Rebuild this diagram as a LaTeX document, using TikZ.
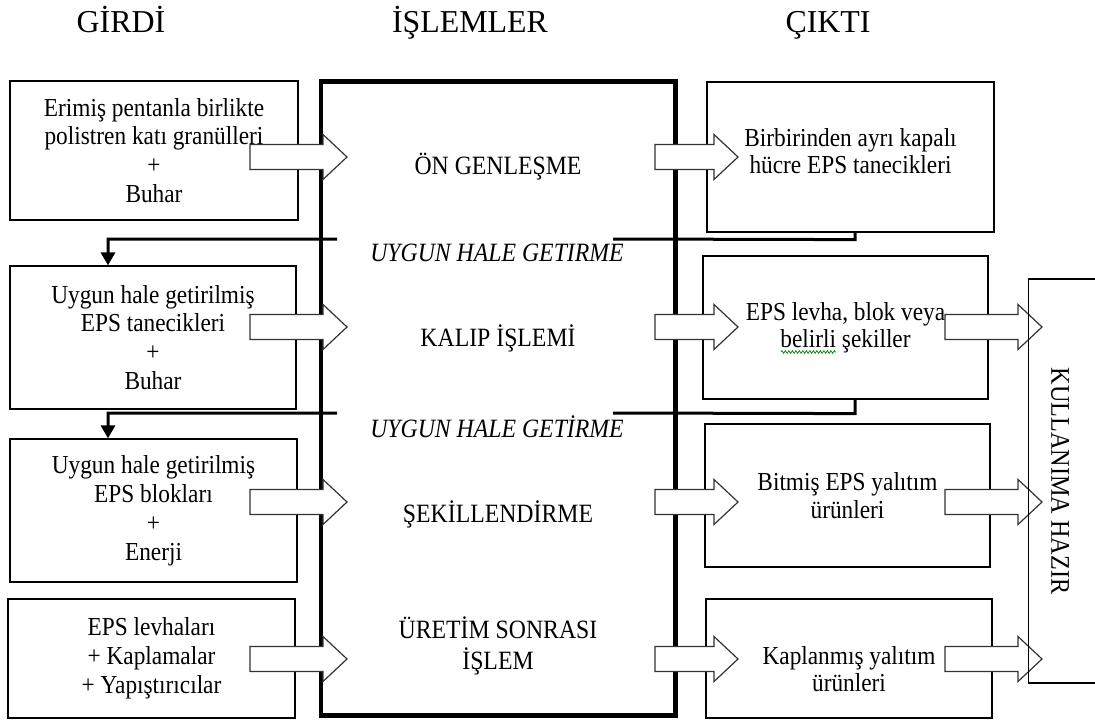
\documentclass[tikz,border=0pt]{standalone}
\usepackage{fontspec}
\setmainfont{Liberation Serif}
\newfontfamily\bodyfont{Liberation Serif}[FakeStretch=0.9]
\usetikzlibrary{arrows.meta,decorations.pathmorphing}

\begin{document}
\begin{tikzpicture}[x=1bp,y=-1bp,
  txt/.style={align=center, inner sep=0pt, font=\bodyfont\fontsize{26}{29}\selectfont},
  box/.style={txt, draw, line width=1.2bp},
  outtxt/.style={txt, font=\bodyfont\fontsize{26}{27.5}\selectfont},
  outbox/.style={outtxt, draw, line width=1.2bp},
  head/.style={font=\fontsize{32}{36}\selectfont, anchor=base},
  proc/.style={align=center, font=\bodyfont\fontsize{26.5}{31}\selectfont},
  cond/.style={font=\bodyfont\fontsize{26.5}{28}\selectfont\itshape},
  feed/.style={line width=3bp, -{Triangle[width=14bp,length=13bp]}},
  arrowline/.style={draw=black!80, fill=white, line width=1.2bp, line join=miter},
  pics/blockarrow/.style={code={
    \path[arrowline] (0,-12.5) -- ({#1-24},-12.5) -- ({#1-24},-22.5) -- (#1,0)
      -- ({#1-24},22.5) -- ({#1-24},12.5) -- (0,12.5) -- cycle;}}
]
\useasboundingbox (0,0) rectangle (1095,720);

% column headings
\node[head] (hin)   at (121,33) {GİRDİ};
\node[head] (hproc) at (470,33) {İŞLEMLER};
\node[head] (hout)  at (828,33) {ÇIKTI};

% process column
\node[draw, line width=4.5bp, minimum width=354.5bp, minimum height=634bp, inner sep=0pt]
  (main) at (498.25,398.5) {};
\node[proc] (p1) at (498,167) {ÖN GENLEŞME};
\node[proc] (p2) at (498,338) {KALIP İŞLEMİ};
\node[proc] (p3) at (498,514) {ŞEKİLLENDİRME};
\node[proc] (p4) at (498,646) {ÜRETİM SONRASI\\İŞLEM};

% inputs
\node[box, minimum width=288bp, minimum height=139bp] (lb1) at (154,150.5)
  {Erimiş pentanla birlikte\\polistren katı granülleri\\+\\Buhar};
\node[box, minimum width=286bp, minimum height=143bp] (lb2) at (153,337.5)
  {Uygun hale getirilmiş\\EPS tanecikleri\\+\\Buhar};
\node[box, minimum width=287bp, minimum height=143bp] (lb3) at (153.5,510.5)
  {Uygun hale getirilmiş\\EPS blokları\\+\\Enerji};
\node[box, minimum width=287bp, minimum height=119bp] (lb4) at (151.5,658.5)
  {EPS levhaları\\+ Kaplamalar\\+ Yapıştırıcılar};

% outputs
\node[outbox, minimum width=287bp, minimum height=150bp] (rb1) at (850.5,157) {};
\node[outtxt] (rb1t) at (850.5,151) {Birbirinden ayrı kapalı\\hücre EPS tanecikleri};
\node[outbox, minimum width=285bp, minimum height=143bp] (rb2) at (845.5,327.5)
  {EPS levha, blok veya\\belirli şekiller};
\node[outbox, minimum width=285bp, minimum height=143bp] (rb3) at (847.5,495.5)
  {Bitmiş EPS yalıtım\\ürünleri};
\node[outbox, minimum width=286bp, minimum height=119bp] (rb4) at (849,658.5) {};
\node[outtxt] (rb4t) at (849,669) {Kaplanmış yalıtım\\ürünleri};

% spell-check squiggle under "belirli"
\draw[green!55!black, line width=0.8bp, decorate,
  decoration={zigzag, segment length=3.5bp, amplitude=1.3bp}] (781,352) -- (836,352);

% conditioning feedback loops
\draw[feed] ([xshift=4.5bp]rb1.south) -- ++(0,7) -- (613,239) (337,239)
  -| ([xshift=-45bp]lb2.north);
\node[cond] (c1) at (497,253) {UYGUN HALE GETIRME};
\draw[feed] ([xshift=9.5bp]rb2.south) -- ++(0,14) -- (613,413) (337,413)
  -| ([xshift=-45.5bp]lb3.north);
\node[cond] (c2) at (497,427) {UYGUN HALE GETİRME};

% block arrows: inputs -> processes
\pic at (250,157) {blockarrow=97};
\pic at (250,327) {blockarrow=97};
\pic at (250,502) {blockarrow=97};
\pic at (250,659) {blockarrow=97};
% processes -> outputs
\pic at (655,157) {blockarrow=83};
\pic at (655,327) {blockarrow=83};
\pic at (655,502) {blockarrow=83};
\pic at (655,659) {blockarrow=83};
% outputs -> ready for use
\pic at (945,327) {blockarrow=97};
\pic at (945,502) {blockarrow=97};
\pic at (945,659) {blockarrow=97};

% ready-for-use frame
\draw[line width=1.5bp] (1100,279) -| (1028.5,683) -- (1100,683);
\node[rotate=-90, font=\bodyfont\fontsize{27}{28}\selectfont] (ready) at (1060,481) {KULLANIMA HAZIR};
\end{tikzpicture}
\end{document}
